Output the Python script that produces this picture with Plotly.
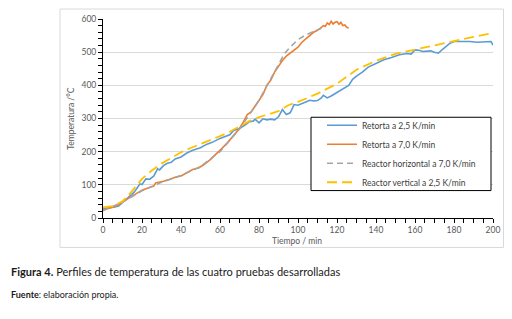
import plotly.graph_objects as go

# ---- data ----
t_ret25 = [0, 3, 6, 8, 10, 12, 14, 16, 18, 19, 20, 22, 24, 26, 28, 29, 31, 33, 35, 37, 40, 43, 46, 50, 53, 56,
           60, 63, 65, 67, 70, 73, 75, 77, 78, 80, 82, 84, 86, 88, 90, 92, 94, 96, 98, 100, 102, 104, 106, 108,
           110, 112, 113, 115, 117, 120, 123, 126, 128, 130, 133, 136, 140, 144, 148, 152, 156, 158, 160, 162,
           164, 166, 168, 170, 172, 174, 176, 178, 180, 184, 188, 192, 196, 199, 200]
T_ret25 = [28, 30, 33, 36, 46, 56, 66, 78, 95, 103, 101, 118, 117, 126, 148, 145, 158, 165, 168, 178, 184, 196,
           204, 212, 222, 228, 240, 246, 251, 264, 270, 281, 290, 292, 298, 287, 299, 296, 298, 296, 305, 327,
           312, 317, 342, 340, 344, 350, 355, 353, 354, 362, 370, 362, 368, 378, 390, 400, 418, 428, 440, 455,
           466, 477, 484, 492, 496, 494, 507, 506, 502, 503, 504, 500, 497, 508, 518, 527, 532, 533, 532, 530,
           531, 532, 521]

t_ret70 = [0, 3, 6, 9, 12, 15, 18, 20, 22, 24, 26, 27, 29, 31, 34, 37, 40, 43, 46, 49, 52, 55, 58, 61, 64, 67,
           70, 72, 74, 76, 78, 80, 82, 84, 86, 88, 90, 92, 94, 96, 98, 100, 102, 104, 106, 108, 110, 111, 112,
           113, 114, 115, 116, 117, 118, 119, 120, 121, 122, 123, 124, 125, 126]
T_ret70 = [25, 30, 34, 45, 56, 68, 79, 84, 88, 91, 96, 106, 108, 111, 116, 123, 127, 136, 146, 151, 162, 176,
           192, 210, 228, 248, 270, 290, 312, 320, 338, 355, 372, 400, 415, 440, 458, 475, 488, 497, 505, 515,
           530, 540, 552, 560, 566, 572, 575, 580, 578, 588, 583, 593, 585, 590, 592, 584, 590, 580, 582, 575,
           573]

t_rh70 = [0, 10, 20, 30, 40, 50, 60, 70, 80, 85, 90, 93, 96, 100, 104, 108, 112]
T_rh70 = [22, 48, 82, 108, 128, 155, 200, 268, 355, 410, 465, 495, 515, 538, 552, 562, 572]

t_rv25 = [0, 5, 10, 15, 20, 25, 30, 35, 40, 45, 50, 55, 60, 65, 70, 75, 80, 85, 90, 95, 100, 110, 120, 130,
          140, 150, 160, 170, 180, 190, 200]
T_rv25 = [32, 36, 50, 82, 118, 143, 164, 182, 198, 211, 222, 235, 247, 260, 276, 292, 304, 312, 322, 340, 350,
          375, 405, 447, 474, 495, 508, 522, 533, 546, 558]

names = ["Retorta a 2,5 K/min", "Retorta a 7,0 K/min", "Reactor horizontal a 7,0 K/min",
         "Reactor vertical a 2,5 K/min"]
y_ticks = [0, 100, 200, 300, 400, 500, 600]
x_ticks = [0, 20, 40, 60, 80, 100, 120, 140, 160, 180, 200]

FONT = "Lato, 'Open Sans', sans-serif"
TXT = "#595959"

fig = go.Figure()
fig.add_trace(go.Scatter(x=t_ret25, y=T_ret25, mode="lines", name=names[0],
                         line=dict(color="#5B9BD5", width=1.6)))
fig.add_trace(go.Scatter(x=t_ret70, y=T_ret70, mode="lines", name=names[1],
                         line=dict(color="#ED7D31", width=1.6)))
fig.add_trace(go.Scatter(x=t_rh70, y=T_rh70, mode="lines", name=names[2],
                         line=dict(color="#A5A5A5", width=1.6, dash="6px,4px")))
fig.add_trace(go.Scatter(x=t_rv25, y=T_rv25, mode="lines", name=names[3],
                         line=dict(color="#FFC000", width=1.8, dash="10px,5px")))

# page body has an 8px margin: work in page pixels, convert to figure pixels
OFF = 8
FW, FH = 512 - 2 * OFF, 319 - 2 * OFF
PL, PR, PT, PB = 103, 493, 19, 218.5   # plot area in page pixels
L, T = PL - OFF, PT - OFF
R = FW - (PR - OFF)
B = FH - (PB - OFF)
W, H = PR - PL, PB - PT


def px(x):
    return (x - PL) / W


def py(y):
    return (PB - y) / H


def ann(text, x, y, size, color, xanchor="center", angle=0):
    return dict(text=text, x=px(x), y=py(y), xref="paper", yref="paper", xanchor=xanchor,
                yanchor="middle", textangle=angle, showarrow=False,
                font=dict(family=FONT, size=size, color=color))


fig.update_layout(
    width=FW, height=FH,
    margin=dict(l=L, r=R, t=T, b=B, autoexpand=False),
    paper_bgcolor="white", plot_bgcolor="white",
    font=dict(family=FONT, size=8, color=TXT),
    showlegend=True,
    legend=dict(x=px(322), y=py(111), xanchor="left", yanchor="top",
                bgcolor="rgba(0,0,0,0)", borderwidth=0,
                font=dict(family=FONT, size=8.5, color="#404040"),
                itemwidth=30, tracegroupgap=0),
    xaxis=dict(range=[0, 200], tickvals=x_ticks, showgrid=False, zeroline=False,
               showline=True, linecolor="black", linewidth=1,
               ticks="outside", ticklen=4, tickcolor="black",
               minor=dict(dtick=5, ticks="outside", ticklen=4, tickcolor="black", showgrid=False),
               tickfont=dict(family=FONT, size=8.5, color=TXT)),
    yaxis=dict(range=[0, 600], tickvals=y_ticks, showgrid=True, gridcolor="#D9D9D9", gridwidth=1,
               zeroline=False, showline=True, linecolor="black", linewidth=1,
               ticks="outside", ticklen=4, tickcolor="black",
               minor=dict(dtick=20, ticks="outside", ticklen=4, tickcolor="black", showgrid=False),
               tickfont=dict(family=FONT, size=8.5, color=TXT)),
    shapes=[
        dict(type="rect", xref="paper", yref="paper", x0=px(60), x1=px(503.5), y0=py(248), y1=py(9),
             line=dict(color="#D9D9D9", width=1), layer="below"),
        dict(type="rect", xref="paper", yref="paper", x0=px(311), x1=px(491), y0=py(191), y1=py(117.5),
             line=dict(color="black", width=1), fillcolor="white", layer="above"),
    ],
    annotations=[
        ann("Temperatura /°C", 71, 119, 8.5, TXT, angle=-90),
        ann("Tiempo / min", 297, 241.5, 8.5, TXT),
        ann("<b>Figura 4.</b> Perfiles de temperatura de las cuatro pruebas desarrolladas",
            8.5, 272, 11, "#1a1a1a", xanchor="left"),
        ann("<b>Fuente</b>: elaboración propia.", 8.5, 295, 9, "#1a1a1a", xanchor="left"),
    ],
)

fig.write_html("out.html")
